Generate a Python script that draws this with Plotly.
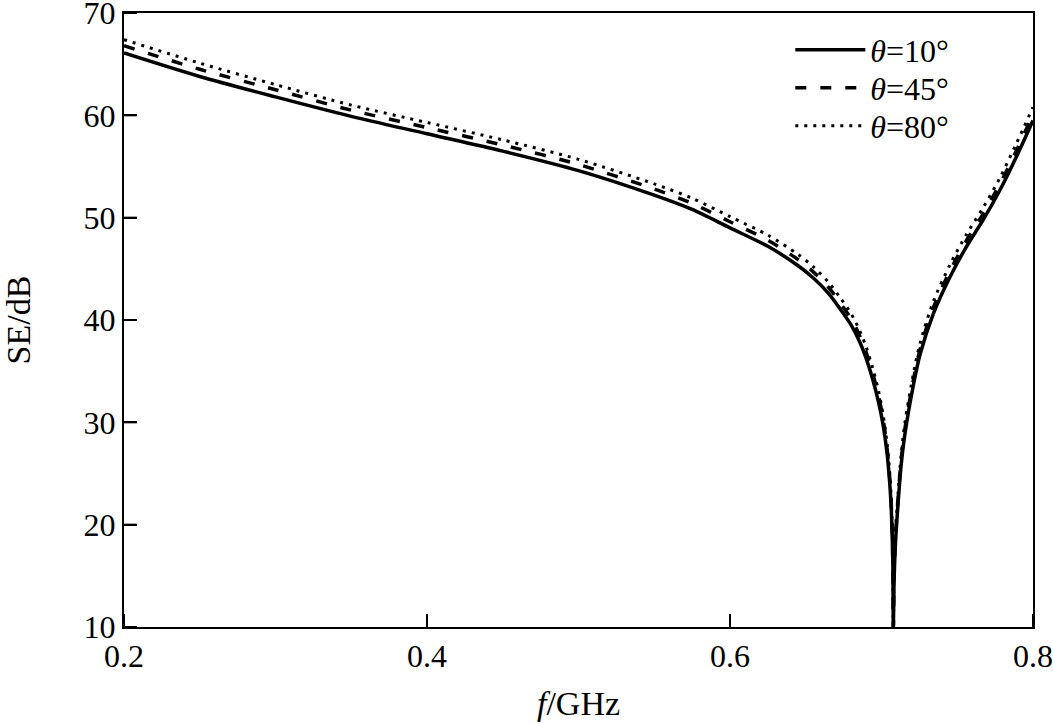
import plotly.graph_objects as go

# frequency samples (GHz), denser around the resonance dip
freq = [0.20, 0.25, 0.30, 0.35, 0.40, 0.45, 0.50, 0.55, 0.575, 0.60,
        0.625, 0.645, 0.655, 0.665, 0.6726, 0.680, 0.6858, 0.690, 0.694, 0.698,
        0.701, 0.7035, 0.7052, 0.7063, 0.7070, 0.7075, 0.7078, 0.7083, 0.709, 0.7096,
        0.7111, 0.7129, 0.7155, 0.721, 0.7254, 0.7342, 0.7452, 0.7562, 0.7672, 0.7782,
        0.7892, 0.80]

# shielding effectiveness (dB)
se_10 = [66.1, 63.8, 61.8, 59.9, 58.2, 56.5, 54.6, 52.2, 50.8, 49.0,
         47.2, 45.3, 44.1, 42.6, 41.1, 39.5, 37.8, 36.2, 34.3, 32.0,
         29.8, 27.2, 24.5, 22.0, 19.2, 16.0, 10.0, 14.5, 17.5, 19.2,
         22.4, 25.7, 28.9, 33.6, 36.6, 40.6, 44.2, 47.2, 49.8, 52.7,
         56.0, 59.5]
se_45 = [66.8, 64.5, 62.5, 60.5, 58.8, 57.1, 55.2, 52.8, 51.4, 49.6,
         47.8, 45.9, 44.7, 43.2, 41.7, 40.1, 38.4, 36.8, 34.9, 32.6,
         30.4, 27.7, 25.0, 22.5, 19.7, 16.4, 10.0, 14.9, 18.0, 19.7,
         22.9, 26.2, 29.4, 34.1, 37.1, 41.2, 44.8, 47.8, 50.4, 53.3,
         56.6, 60.1]
se_80 = [67.4, 65.1, 63.0, 61.0, 59.3, 57.6, 55.7, 53.3, 51.9, 50.1,
         48.3, 46.4, 45.2, 43.7, 42.2, 40.6, 38.9, 37.3, 35.4, 33.1,
         30.8, 28.2, 25.5, 22.9, 20.1, 16.8, 10.0, 15.3, 18.4, 20.2,
         23.4, 26.7, 30.0, 34.7, 37.7, 41.8, 45.4, 48.4, 51.0, 53.9,
         57.3, 60.8]

x_ticks = [0.2, 0.4, 0.6, 0.8]
x_labels = ["0.2", "0.4", "0.6", "0.8"]
y_ticks = [10, 20, 30, 40, 50, 60, 70]

series_names = ["<i>θ</i>=10°", "<i>θ</i>=45°", "<i>θ</i>=80°"]
dash_styles = ["solid", "11px,14px", "3px,6px"]
widths = [3.5, 3.5, 3]
legend_ids = ["legend", "legend2", "legend3"]
legend_rows = [0.94, 0.878, 0.816]

font_family = "Liberation Serif, Times New Roman, serif"
W, H = 1053, 724
ML, MR, MT, MB = 124, 20, 13, 97
tick_px = 13

fig = go.Figure()
for name, ys, dash, w, lg in zip(series_names, [se_10, se_45, se_80],
                                 dash_styles, widths, legend_ids):
    fig.add_trace(go.Scatter(
        x=freq, y=ys, mode="lines", name=name, legend=lg, showlegend=True,
        line=dict(color="black", width=w, dash=dash, shape="spline", smoothing=0.8)
    ))

# inward tick marks
plot_w = W - ML - MR
plot_h = H - MT - MB
for v in x_ticks:
    fig.add_shape(type="line", xref="x", yref="paper", x0=v, x1=v,
                  y0=0, y1=tick_px / plot_h, line=dict(color="black", width=2))
for v in y_ticks:
    fig.add_shape(type="line", xref="paper", yref="y", x0=0, x1=tick_px / plot_w,
                  y0=v, y1=v, line=dict(color="black", width=2))

legend_style = dict(x=0.733, xanchor="left", yanchor="middle", visible=True,
                    bgcolor="rgba(0,0,0,0)", font=dict(size=32), itemwidth=70)

fig.update_layout(
    width=W, height=H,
    showlegend=True,
    margin=dict(l=ML, r=MR, t=MT, b=MB),
    paper_bgcolor="white", plot_bgcolor="white",
    font=dict(family=font_family, size=32, color="black"),
    legend=dict(y=legend_rows[0], **legend_style),
    legend2=dict(y=legend_rows[1], **legend_style),
    legend3=dict(y=legend_rows[2], **legend_style),
    xaxis=dict(
        range=[0.2, 0.8], tickvals=x_ticks, ticktext=x_labels,
        ticks="inside", ticklen=tick_px, tickwidth=2, tickcolor="black",
        ticklabeloverflow="allow",
        showline=True, linecolor="black", linewidth=2, mirror=True,
        showgrid=False, zeroline=False, automargin=False,
        title=dict(text="<i>f</i>/GHz", standoff=18, font=dict(size=34))
    ),
    yaxis=dict(
        range=[10, 70], tickvals=y_ticks,
        ticks="inside", ticklen=tick_px, tickwidth=2, tickcolor="black",
        ticklabeloverflow="allow",
        showline=True, linecolor="black", linewidth=2, mirror=True,
        showgrid=False, zeroline=False, automargin=False,
        title=dict(text="SE/dB", standoff=50, font=dict(size=34))
    ),
)

fig.write_html("out.html", config={"displayModeBar": False},
               post_script="document.body.style.margin='0';")
